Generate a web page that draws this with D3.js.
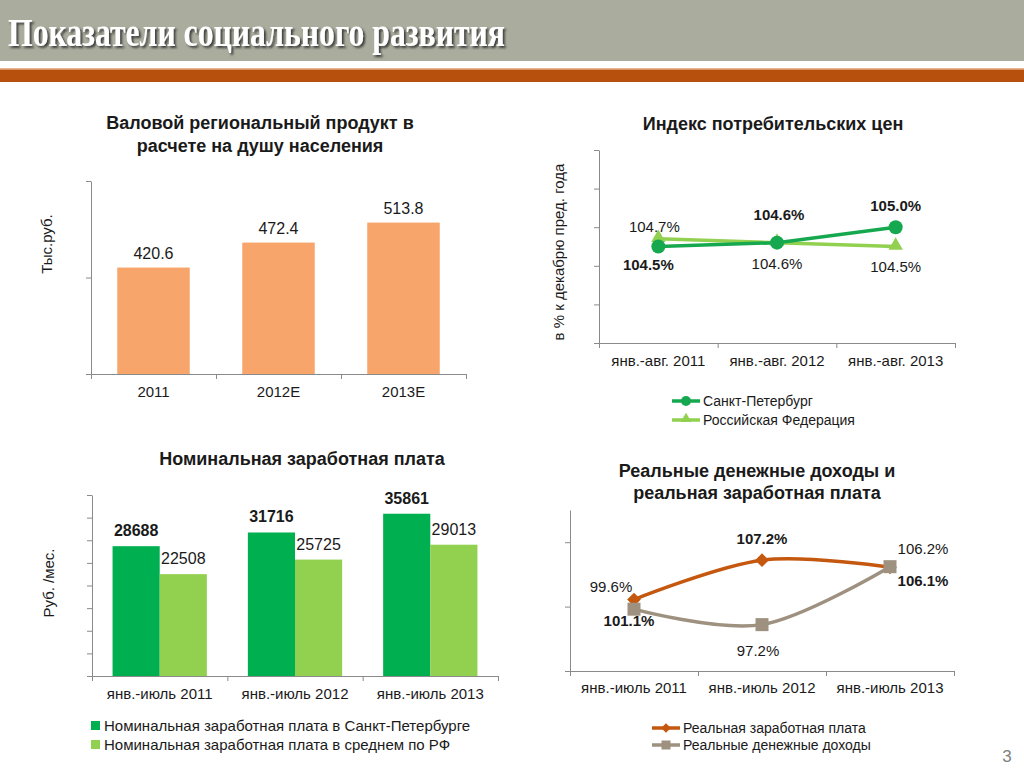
<!DOCTYPE html>
<html><head><meta charset="utf-8">
<script src="https://cdn.jsdelivr.net/npm/d3@7"></script>
<style>
body{margin:0;background:#fff}
svg{display:block}
text{font-family:"Liberation Sans",Arial,sans-serif}
</style>
</head><body>
<svg id="c" width="1024" height="768"></svg>
<script>
// ---------- DATA ----------
const pageTitle = "Показатели социального развития";
const pageNumber = "3";

// Chart 1: Gross regional product per capita
const grpTitle = ["Валовой региональный продукт в", "расчете на душу населения"];
const grpCategories = ["2011", "2012E", "2013E"];
const grpValues = [420.6, 472.4, 513.8];
const grpLabels = ["420.6", "472.4", "513.8"];
const grpTicks = [200, 400, 600];
const grpUnit = "Тыс.руб.";

// Chart 2: Consumer price index
const cpiTitle = ["Индекс потребительских цен"];
const cpiCategories = ["янв.-авг. 2011", "янв.-авг. 2012", "янв.-авг. 2013"];
const cpiSeriesNames = ["Санкт-Петербург", "Российская Федерация"];
const cpiSpb = [104.5, 104.6, 105.0];
const cpiRf = [104.7, 104.6, 104.5];
const cpiTicks = [102, 103, 104, 105, 106, 107];
const cpiUnit = "в % к декабрю пред. года";

// Chart 3: Nominal wage
const wageTitle = ["Номинальная заработная плата"];
const wageCategories = ["янв.-июль 2011", "янв.-июль 2012", "янв.-июль 2013"];
const wageSeriesNames = ["Номинальная заработная плата в Санкт-Петербурге", "Номинальная заработная плата в среднем по РФ"];
const wageSpb = [28688, 31716, 35861];
const wageRf = [22508, 25725, 29013];
const wageTicks = [0, 5000, 10000, 15000, 20000, 25000, 30000, 35000, 40000];
const wageUnit = "Руб. /мес.";

// Chart 4: Real incomes and real wages
const realTitle = ["Реальные денежные доходы и", "реальная заработная плата"];
const realCategories = ["янв.-июль 2011", "янв.-июль 2012", "янв.-июль 2013"];
const realSeriesNames = ["Реальная заработная плата", "Реальные денежные доходы"];
const realWage = [101.1, 107.2, 106.1];
const realIncome = [99.6, 97.2, 106.2];
const realTicks = [90, 100, 110];

// ---------- STYLE ----------
const AXIS = "#8a8a8a";
const TXT = "#1a1a1a";
const ORANGE_BAR = "#F7A56B";
const DARK_GREEN = "#00B050";
const LIGHT_GREEN = "#92D050";
const LINE_GREEN = "#16A84E";
const RUST = "#C5580F";
const TAUPE = "#9E917F";

const svg = d3.select("#c");

// ---------- HEADER ----------
svg.append("rect").attr("x",0).attr("y",0).attr("width",1024).attr("height",61).attr("fill","#AAAD9E");
svg.append("rect").attr("x",0).attr("y",68).attr("width",1024).attr("height",1.5).attr("fill","#E9B48E");
svg.append("rect").attr("x",0).attr("y",69.5).attr("width",1024).attr("height",12.5).attr("fill","#B8500D");
const defs = svg.append("defs");
const f = defs.append("filter").attr("id","sh").attr("x","-5%").attr("y","-20%").attr("width","110%").attr("height","150%");
f.append("feDropShadow").attr("dx",2).attr("dy",2).attr("stdDeviation",1.2).attr("flood-color","#2a2a2a").attr("flood-opacity",0.85);
svg.append("text").attr("x",8).attr("y",46)
  .style("font-family","'Liberation Serif','Times New Roman',serif")
  .attr("font-size",40).attr("font-weight","bold").attr("fill","#fff").attr("filter","url(#sh)")
  .attr("textLength",497).attr("lengthAdjust","spacingAndGlyphs")
  .text(pageTitle);

svg.append("text").attr("x",1007).attr("y",762).attr("text-anchor","middle")
  .attr("font-size",17).attr("fill","#7f7f7f").text(pageNumber);

// ---------- HELPERS ----------
function title(lines, cx, y0, lh) {
  lines.forEach((t,i)=> svg.append("text").attr("x",cx).attr("y",y0+i*lh)
    .attr("text-anchor","middle").attr("font-size",18).attr("font-weight","bold").attr("fill",TXT).text(t));
}
function yAxis(y, x0, ticks) {
  const g = svg.append("g").attr("transform",`translate(${x0},0)`)
    .call(d3.axisLeft(y).tickValues(ticks).tickFormat("").tickSize(5).tickSizeOuter(0));
  g.selectAll("path,line").attr("stroke",AXIS);
  return g;
}
function xAxis(x, y0, labelDy) {
  const n = x.domain().length;
  const [a,b] = x.range();
  const idx = d3.scaleLinear().domain([0,n]).range([a,b]);
  const g = svg.append("g").attr("transform",`translate(0,${y0})`)
    .call(d3.axisBottom(idx).tickValues(d3.range(n+1)).tickFormat("").tickSize(5).tickSizeOuter(0));
  g.selectAll("path,line").attr("stroke",AXIS);
  const gl = svg.append("g").attr("transform",`translate(0,${y0})`)
    .call(d3.axisBottom(x).tickSize(0).tickPadding(labelDy));
  gl.select(".domain").remove();
  gl.selectAll("text").attr("font-size",15).attr("fill",TXT).style("font-family","'Liberation Sans',Arial,sans-serif");
}
function yTitle(t, cx, cy, fs) {
  svg.append("text").attr("transform",`translate(${cx},${cy}) rotate(-90)`)
    .attr("text-anchor","middle").attr("dominant-baseline","central")
    .attr("font-size",fs).attr("fill",TXT).text(t);
}
function label(x, y, t, bold, fs) {
  svg.append("text").attr("x",x).attr("y",y).attr("text-anchor","middle")
    .attr("font-size",fs).attr("font-weight",bold?"bold":"normal").attr("fill",TXT).text(t);
}
const pct = v => v.toFixed(1) + "%";

// ---------- CHART 1 ----------
{
  title(grpTitle, 260, 129, 23);
  const x = d3.scaleBand().domain(grpCategories).range([91,466]).paddingInner(0.42).paddingOuter(0.21);
  const y = d3.scaleLinear().domain([200,600]).range([374,181]);
  svg.append("g").selectAll("rect").data(grpValues).join("rect")
    .attr("x",(d,i)=>x(grpCategories[i])).attr("width",x.bandwidth())
    .attr("y",d=>y(d)).attr("height",d=>y(200)-y(d)).attr("fill",ORANGE_BAR);
  yAxis(y, 91, grpTicks);
  xAxis(x, 374, 12);
  grpValues.forEach((v,i)=> label(x(grpCategories[i])+x.bandwidth()/2, y(v)-9, grpLabels[i], false, 16));
  yTitle(grpUnit, 46, 244, 15);
}

// ---------- CHART 2 ----------
{
  title(cpiTitle, 773, 130, 23);
  const x = d3.scaleBand().domain(cpiCategories).range([599,955]);
  const y = d3.scaleLinear().domain([102,107]).range([343,150]);
  const cx = i => x(cpiCategories[i]) + x.bandwidth()/2;
  yAxis(y, 599, cpiTicks);
  xAxis(x, 343, 12);
  const line = d3.line().x((d,i)=>cx(i)).y(d=>y(d));
  svg.append("path").datum(cpiRf).attr("d",line).attr("fill","none").attr("stroke",LIGHT_GREEN).attr("stroke-width",3.5);
  svg.append("path").datum(cpiSpb).attr("d",line).attr("fill","none").attr("stroke",LINE_GREEN).attr("stroke-width",3.5);
  const tri = d3.symbol().type(d3.symbolTriangle).size(90);
  svg.append("g").selectAll("path").data(cpiRf).join("path")
    .attr("d",tri).attr("transform",(d,i)=>`translate(${cx(i)},${y(d)-1})`).attr("fill",LIGHT_GREEN);
  svg.append("g").selectAll("circle").data(cpiSpb).join("circle")
    .attr("cx",(d,i)=>cx(i)).attr("cy",d=>y(d)).attr("r",7).attr("fill",LINE_GREEN);
  const spbOff = [[-10,23],[2,-23],[0,-16]];
  const rfOff = [[-4,-7],[0,26],[0,25]];
  cpiSpb.forEach((v,i)=> label(cx(i)+spbOff[i][0], y(v)+spbOff[i][1], pct(v), true, 15));
  cpiRf.forEach((v,i)=> label(cx(i)+rfOff[i][0], y(v)+rfOff[i][1], pct(v), false, 15));
  yTitle(cpiUnit, 558, 252, 15);
  // legend
  const leg = [[cpiSeriesNames[0], LINE_GREEN, "c"], [cpiSeriesNames[1], LIGHT_GREEN, "t"]];
  leg.forEach((d,i)=>{
    const yy = 401 + i*19;
    svg.append("line").attr("x1",672).attr("x2",700).attr("y1",yy).attr("y2",yy).attr("stroke",d[1]).attr("stroke-width",3.5);
    if (d[2]==="c") svg.append("circle").attr("cx",686).attr("cy",yy).attr("r",5).attr("fill",d[1]);
    else svg.append("path").attr("d",d3.symbol().type(d3.symbolTriangle).size(50)).attr("transform",`translate(686,${yy-1})`).attr("fill",d[1]);
    svg.append("text").attr("x",703).attr("y",yy+5).attr("font-size",14).attr("fill",TXT).text(d[0]);
  });
}

// ---------- CHART 3 ----------
{
  title(wageTitle, 302, 465, 23);
  const x0 = d3.scaleBand().domain(wageCategories).range([92,498]).paddingInner(0.303).paddingOuter(0.152);
  const x1 = d3.scaleBand().domain([0,1]).range([0,x0.bandwidth()]);
  const y = d3.scaleLinear().domain([0,40000]).range([676,495]);
  const series = [wageSpb, wageRf];
  const cols = [DARK_GREEN, LIGHT_GREEN];
  series.forEach((s,k)=>{
    svg.append("g").selectAll("rect").data(s).join("rect")
      .attr("x",(d,i)=>x0(wageCategories[i])+x1(k)).attr("width",x1.bandwidth())
      .attr("y",d=>y(d)).attr("height",d=>y(0)-y(d)).attr("fill",cols[k]);
  });
  yAxis(y, 92, wageTicks);
  xAxis(x0.copy().paddingInner(0).paddingOuter(0), 676, 12);
  series.forEach((s,k)=> s.forEach((v,i)=>
    label(x0(wageCategories[i])+x1(k)+x1.bandwidth()/2, y(v)-10, String(v), k===0, 16)));
  yTitle(wageUnit, 48, 583, 15);
  wageSeriesNames.forEach((n,i)=>{
    const yy = 726 + i*19;
    svg.append("rect").attr("x",91).attr("y",yy-5).attr("width",9).attr("height",9).attr("fill",cols[i]);
    svg.append("text").attr("x",104).attr("y",yy+5).attr("font-size",15).attr("fill",TXT).text(n);
  });
}

// ---------- CHART 4 ----------
{
  title(realTitle, 757, 477, 22);
  const x = d3.scaleBand().domain(realCategories).range([570,954]);
  const y = d3.scaleLinear().domain([90,115]).range([671,510]);
  const cx = i => x(realCategories[i]) + x.bandwidth()/2;
  yAxis(y, 570, realTicks);
  xAxis(x, 671, 11);
  const line = d3.line().x((d,i)=>cx(i)).y(d=>y(d)).curve(d3.curveCardinal.tension(0));
  svg.append("path").datum(realIncome).attr("d",line).attr("fill","none").attr("stroke",TAUPE).attr("stroke-width",3.5);
  svg.append("path").datum(realWage).attr("d",line).attr("fill","none").attr("stroke",RUST).attr("stroke-width",3.5);
  const dia = d3.symbol().type(d3.symbolDiamond2).size(120);
  svg.append("g").selectAll("path").data(realWage).join("path")
    .attr("d",dia).attr("transform",(d,i)=>`translate(${cx(i)},${y(d)})`).attr("fill",RUST);
  svg.append("g").selectAll("rect").data(realIncome).join("rect")
    .attr("x",(d,i)=>cx(i)-6.5).attr("y",d=>y(d)-6.5).attr("width",13).attr("height",13).attr("fill",TAUPE);
  const wOff = [[-5,26],[0,-16],[33,19]];
  const iOff = [[-23,-17],[-4,31],[33,-13]];
  // labels as in the source slide (first-point labels are placed crosswise)
  label(cx(0)+iOff[0][0], y(realWage[0])-8, pct(realIncome[0]), false, 15);
  label(cx(0)+wOff[0][0], y(realIncome[0])+17, pct(realWage[0]), true, 15);
  [1,2].forEach(i=>{
    label(cx(i)+wOff[i][0], y(realWage[i])+wOff[i][1], pct(realWage[i]), true, 15);
    label(cx(i)+iOff[i][0], y(realIncome[i])+iOff[i][1], pct(realIncome[i]), false, 15);
  });
  const cols = [RUST, TAUPE];
  realSeriesNames.forEach((n,i)=>{
    const yy = 728 + i*17;
    svg.append("line").attr("x1",652).attr("x2",680).attr("y1",yy).attr("y2",yy).attr("stroke",cols[i]).attr("stroke-width",3.5);
    if (i===0) svg.append("path").attr("d",d3.symbol().type(d3.symbolDiamond2).size(60)).attr("transform",`translate(666,${yy})`).attr("fill",cols[i]);
    else svg.append("rect").attr("x",661.5).attr("y",yy-4.5).attr("width",9).attr("height",9).attr("fill",cols[i]);
    svg.append("text").attr("x",683).attr("y",yy+5).attr("font-size",14).attr("fill",TXT).text(n);
  });
}
</script>
</body></html>
